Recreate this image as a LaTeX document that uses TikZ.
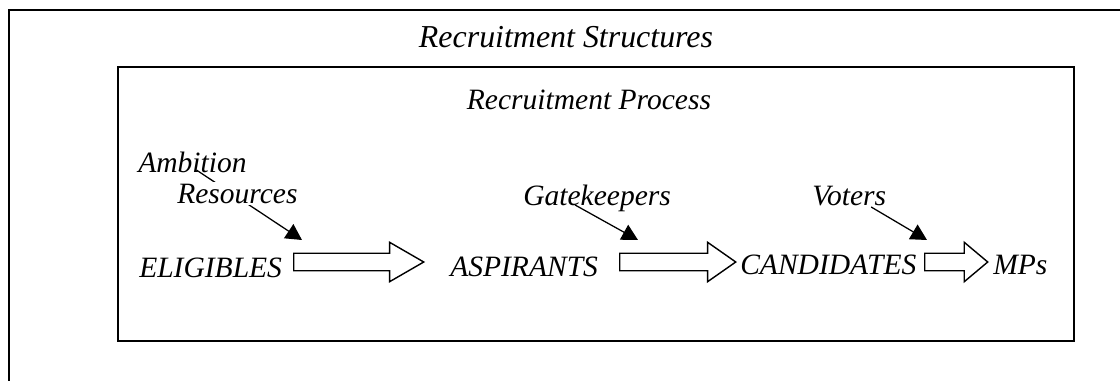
\documentclass[tikz,border=0pt]{standalone}
\usepackage{fontspec}
\setmainfont{Liberation Serif}
\usetikzlibrary{arrows.meta,shapes.arrows,positioning,calc}
\tikzset{>={Triangle[width=4.2mm,length=4mm]}}
\tikzset{lbl/.style={font=\fontsize{21}{25}\selectfont\itshape, inner sep=0pt}}
\tikzset{frame/.style={draw, line width=1.2pt}}
\tikzset{thinarr/.style={->, line width=0.9pt}}
\tikzset{blockarr/.style={shape=single arrow, draw, line width=1pt, fill=white,
    inner sep=0pt, inner ysep=0.2cm, single arrow head extend=0.275cm, anchor=tail}}

\begin{document}
\begin{tikzpicture}[x=0.025cm, y=-0.025cm]
    \useasboundingbox (0,0) rectangle (1120,381);

    % outer and inner frames
    \draw[frame] (1120,10) -- (9,10) -- (9,381);
    \draw[frame] (118,67) rectangle (1074,341);

    \node(struct)[lbl, anchor=base, font=\fontsize{22.7}{27}\selectfont\itshape] at (566,48) {Recruitment Structures};
    \node(proc)[lbl, anchor=base]   at (589,110) {Recruitment Process};

    \node(elig)[lbl, anchor=base west] at (139,277) {ELIGIBLES};
    \node(asp)[lbl, anchor=base west]  at (450,276) {ASPIRANTS};
    \node(cand)[lbl, anchor=base west] at (740,274) {CANDIDATES};
    \node(mps)[lbl, anchor=base west]  at (993,274) {MPs};

    \node(arr1)[blockarr, minimum height=3.25cm, single arrow tip angle=60] at (293,262) {};
    \node(arr2)[blockarr, minimum height=2.9cm, single arrow tip angle=70]  at (619,262) {};
    \node(arr3)[blockarr, minimum height=1.575cm, single arrow tip angle=80] at (924,262) {};

    \node(amb)[lbl, anchor=base west]  at (138,172) {Ambition};
    \node(gate)[lbl, anchor=base west] at (523,205) {Gatekeepers};
    \node(vot)[lbl, anchor=base west]  at (812,205) {Voters};

    \draw[thinarr] ($(amb.base)+(4,-2)$) -- ($(arr1.tail)+(9,-22)$);
    \draw[thinarr] ($(gate.base)+(-22,0)$) -- ($(arr2.tail)+(19,-22)$);
    \draw[thinarr] ($(vot.base)+(22,2)$) -- ($(arr3.tail)+(3,-22)$);

    % drawn last so it covers the line from Ambition
    \node(res)[lbl, anchor=base west, fill=white, inner ysep=1pt] at (177,203) {Resources};

\end{tikzpicture}
\end{document}
